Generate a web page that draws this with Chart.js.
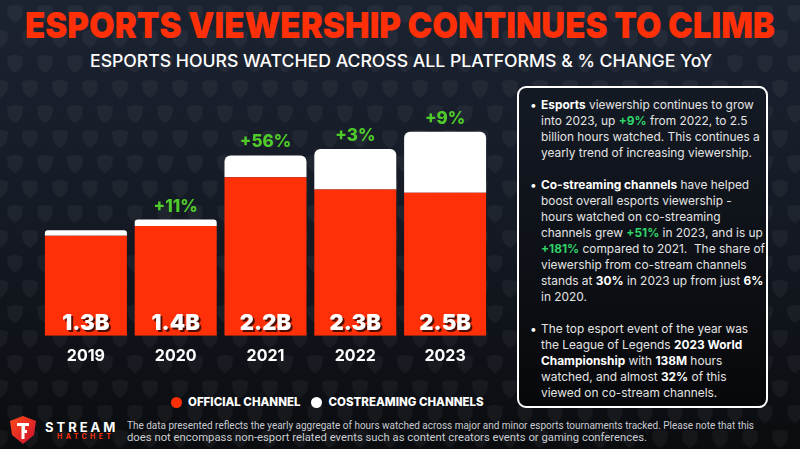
<!DOCTYPE html>
<html>
<head>
<meta charset="utf-8">
<script src="https://cdn.jsdelivr.net/npm/chart.js@4.4.0/dist/chart.umd.min.js"></script>
<style>
  html, body { margin: 0; padding: 0; }
  body {
    width: 800px; height: 449px; overflow: hidden; position: relative;
    font-family: Inter, "Open Sans", sans-serif;
    background-color: #10141b;
    background-image:
      url("data:image/svg+xml,%3Csvg xmlns='http://www.w3.org/2000/svg' width='30' height='50'%3E%3Cg fill='%23ffffff' fill-opacity='0.045'%3E%3Cpath d='M7 7 Q15 3 23 7 L22 16 Q19 21 15 23 Q11 21 8 16 Z'/%3E%3Cpath d='M-8 32 Q0 28 8 32 L7 41 Q4 46 0 48 Q-4 46 -7 41 Z'/%3E%3Cpath d='M22 32 Q30 28 38 32 L37 41 Q34 46 30 48 Q26 46 23 41 Z'/%3E%3C/g%3E%3C/svg%3E"),
      linear-gradient(#1b2231 0%, #161c27 40%, #0a0c0f 100%);
  }
  .fit { position: absolute; white-space: nowrap; transform-origin: left center; }
  #title { top: 7px; left: 25px; font-size: 36px; line-height: 36px; font-weight: 900; color: #ff3008; }
  #subtitle { top: 51px; left: 90px; font-size: 17px; line-height: 20px; font-weight: 500; color: #ffffff; }
  #chartWrap { position: absolute; left: 0; top: 80px; width: 500px; height: 300px; }
  #legend { position: absolute; left: 171px; top: 395px; display: flex; align-items: center;
    font-size: 11.5px; font-weight: 800; color: #fff; line-height: 14px; }
  #legend .dot { width: 11px; height: 11px; border-radius: 50%; margin-right: 6px; }
  #legend .item { display: flex; align-items: center; margin-right: 11px; }
  #box { position: absolute; left: 517px; top: 86px; width: 247px; height: 318px;
    border: 2px solid #ffffff; border-radius: 9px;
    background: linear-gradient(#141a24, #07080a); }
  #box p { margin: 0 0 16px 0; position: relative; padding-left: 22px; padding-top: 0;
    font-size: 11.9px; line-height: 16px; color: #e4e4e4; white-space: nowrap; }
  #box p:first-child { margin-top: 9px; }
  #box p::before { content: "\2022"; position: absolute; left: 11px; top: 0; color: #fff; }
  #box b { color: #fff; font-weight: 700; }
  #box .g { color: #2fd468; font-weight: 700; }
  #logo { position: absolute; left: 7px; top: 415px; }
  #stream { position: absolute; left: 45px; top: 420px; font-size: 13px; line-height: 14px;
    font-weight: 700; color: #fff; letter-spacing: 3px; }
  #hatchet { position: absolute; left: 57px; top: 433px; font-size: 7px; line-height: 8px;
    font-weight: 700; color: #ff3008; letter-spacing: 3.4px; }
  .foot { font-size: 10.3px; line-height: 12px; color: #c9ccd1; left: 127px; font-family: "Liberation Sans Narrow", Roboto, sans-serif; }
</style>
</head>
<body>
<div id="title" class="fit" data-w="750">ESPORTS VIEWERSHIP CONTINUES TO CLIMB</div>
<div id="subtitle" class="fit" data-w="622">ESPORTS HOURS WATCHED ACROSS ALL PLATFORMS &amp; % CHANGE YoY</div>

<div id="chartWrap"><canvas id="viewChart"></canvas></div>

<div id="legend">
  <div class="item"><span class="dot" style="background:#ff3008"></span>OFFICIAL CHANNEL</div>
  <div class="item"><span class="dot" style="background:#ffffff"></span>COSTREAMING CHANNELS</div>
</div>

<div id="box">
  <p><b>Esports</b> viewership continues to grow<br>into 2023, up <span class="g">+9%</span> from 2022, to 2.5<br>billion hours watched. This continues a<br>yearly trend of increasing viewership.</p>
  <p><b>Co-streaming channels</b> have helped<br>boost overall esports viewership -<br>hours watched on co-streaming<br>channels grew <span class="g">+51%</span> in 2023, and is up<br><span class="g">+181%</span> compared to 2021.&nbsp; The share of<br>viewership from co-stream channels<br>stands at <b>30%</b> in 2023 up from just <b>6%</b><br>in 2020.</p>
  <p>The top esport event of the year was<br>the League of Legends <b>2023 World<br>Championship</b> with <b>138M</b> hours<br>watched, and almost <b>32%</b> of this<br>viewed on co-stream channels.</p>
</div>

<svg id="logo" width="32" height="30" viewBox="0 0 32 30">
  <defs>
    <linearGradient id="lg" x1="0" y1="0" x2="1" y2="1">
      <stop offset="0" stop-color="#ff4a1a"/>
      <stop offset="1" stop-color="#c8102e"/>
    </linearGradient>
  </defs>
  <path d="M3 6 L16 1 L29 6 L27 20 L16 29 L5 20 Z" fill="url(#lg)"/>
  <path d="M10 8 L22 8 L22 11 L18 11 L18 15 L20 15 L20 18 L17.5 18 L17.5 24 L14.5 24 L14.5 11 L10 11 Z" fill="#fff"/>
</svg>
<div id="stream">STREAM</div>
<div id="hatchet">HATCHET</div>
<div class="fit foot" style="top:420px" data-w="627">The data presented reflects the yearly aggregate of hours watched across major and minor esports tournaments tracked. Please note that this</div>
<div class="fit foot" style="top:432px" data-w="520">does not encompass non-esport related events such as content creators events or gaming conferences.</div>

<script>
// -----------------------------
// Data
// -----------------------------
const years = ["2019", "2020", "2021", "2022", "2023"];
const official = [1.23, 1.35, 1.95, 1.80, 1.76];
const costreaming = [0.07, 0.08, 0.27, 0.50, 0.75];
const totalLabels = ["1.3B", "1.4B", "2.2B", "2.3B", "2.5B"];
const growthLabels = ["", "+11%", "+56%", "+3%", "+9%"];

const FONT = "Inter, 'Open Sans', sans-serif";

// -----------------------------
// Stretch text blocks to the reference widths
// -----------------------------
document.querySelectorAll(".fit").forEach(el => {
  const target = parseFloat(el.dataset.w);
  const actual = el.getBoundingClientRect().width;
  if (actual > 0) el.style.transform = `scaleX(${target / actual})`;
});

// -----------------------------
// Labels on the bars
// -----------------------------
const barLabels = {
  id: "barLabels",
  afterDatasetsDraw(chart) {
    const { ctx, chartArea } = chart;
    const topMeta = chart.getDatasetMeta(1);
    ctx.save();
    ctx.textAlign = "center";
    ctx.textBaseline = "middle";
    topMeta.data.forEach((bar, i) => {
      // growth above the stack
      if (growthLabels[i]) {
        ctx.font = `800 17px ${FONT}`;
        ctx.fillStyle = "#4fcc29";
        ctx.fillText(growthLabels[i], bar.x, bar.y - 13);
      }
      // total inside the bottom of the bar
      ctx.font = `900 22px ${FONT}`;
      ctx.shadowColor = "rgba(70,12,0,0.95)";
      ctx.shadowOffsetX = 2;
      ctx.shadowOffsetY = 2;
      ctx.shadowBlur = 0;
      ctx.fillStyle = "#ffffff";
      ctx.fillText(totalLabels[i], bar.x, chartArea.bottom - 12);
      ctx.shadowColor = "transparent";
    });
    ctx.restore();
  }
};

// -----------------------------
// Chart
// -----------------------------
new Chart(document.getElementById("viewChart"), {
  type: "bar",
  data: {
    labels: years,
    datasets: [
      {
        label: "Official Channel",
        data: official,
        backgroundColor: "#ff3008",
        borderRadius: 0,
        barPercentage: 0.913,
        categoryPercentage: 1
      },
      {
        label: "Costreaming Channels",
        data: costreaming,
        backgroundColor: "#ffffff",
        borderRadius: { topLeft: 6, topRight: 6, bottomLeft: 0, bottomRight: 0 },
        borderSkipped: false,
        barPercentage: 0.913,
        categoryPercentage: 1
      }
    ]
  },
  options: {
    responsive: true,
    maintainAspectRatio: false,
    animation: false,
    layout: { padding: { left: 41, right: 10, top: 12, bottom: 3 } },
    plugins: {
      legend: { display: false },
      tooltip: { enabled: false }
    },
    scales: {
      x: {
        stacked: true,
        grid: { display: false, drawTicks: false },
        border: { display: false },
        ticks: {
          color: "#ffffff",
          padding: 11,
          font: { family: FONT, size: 16, weight: "bold" }
        }
      },
      y: {
        stacked: true,
        display: false,
        min: 0,
        max: 3
      }
    }
  },
  plugins: [barLabels]
});
</script>
</body>
</html>
